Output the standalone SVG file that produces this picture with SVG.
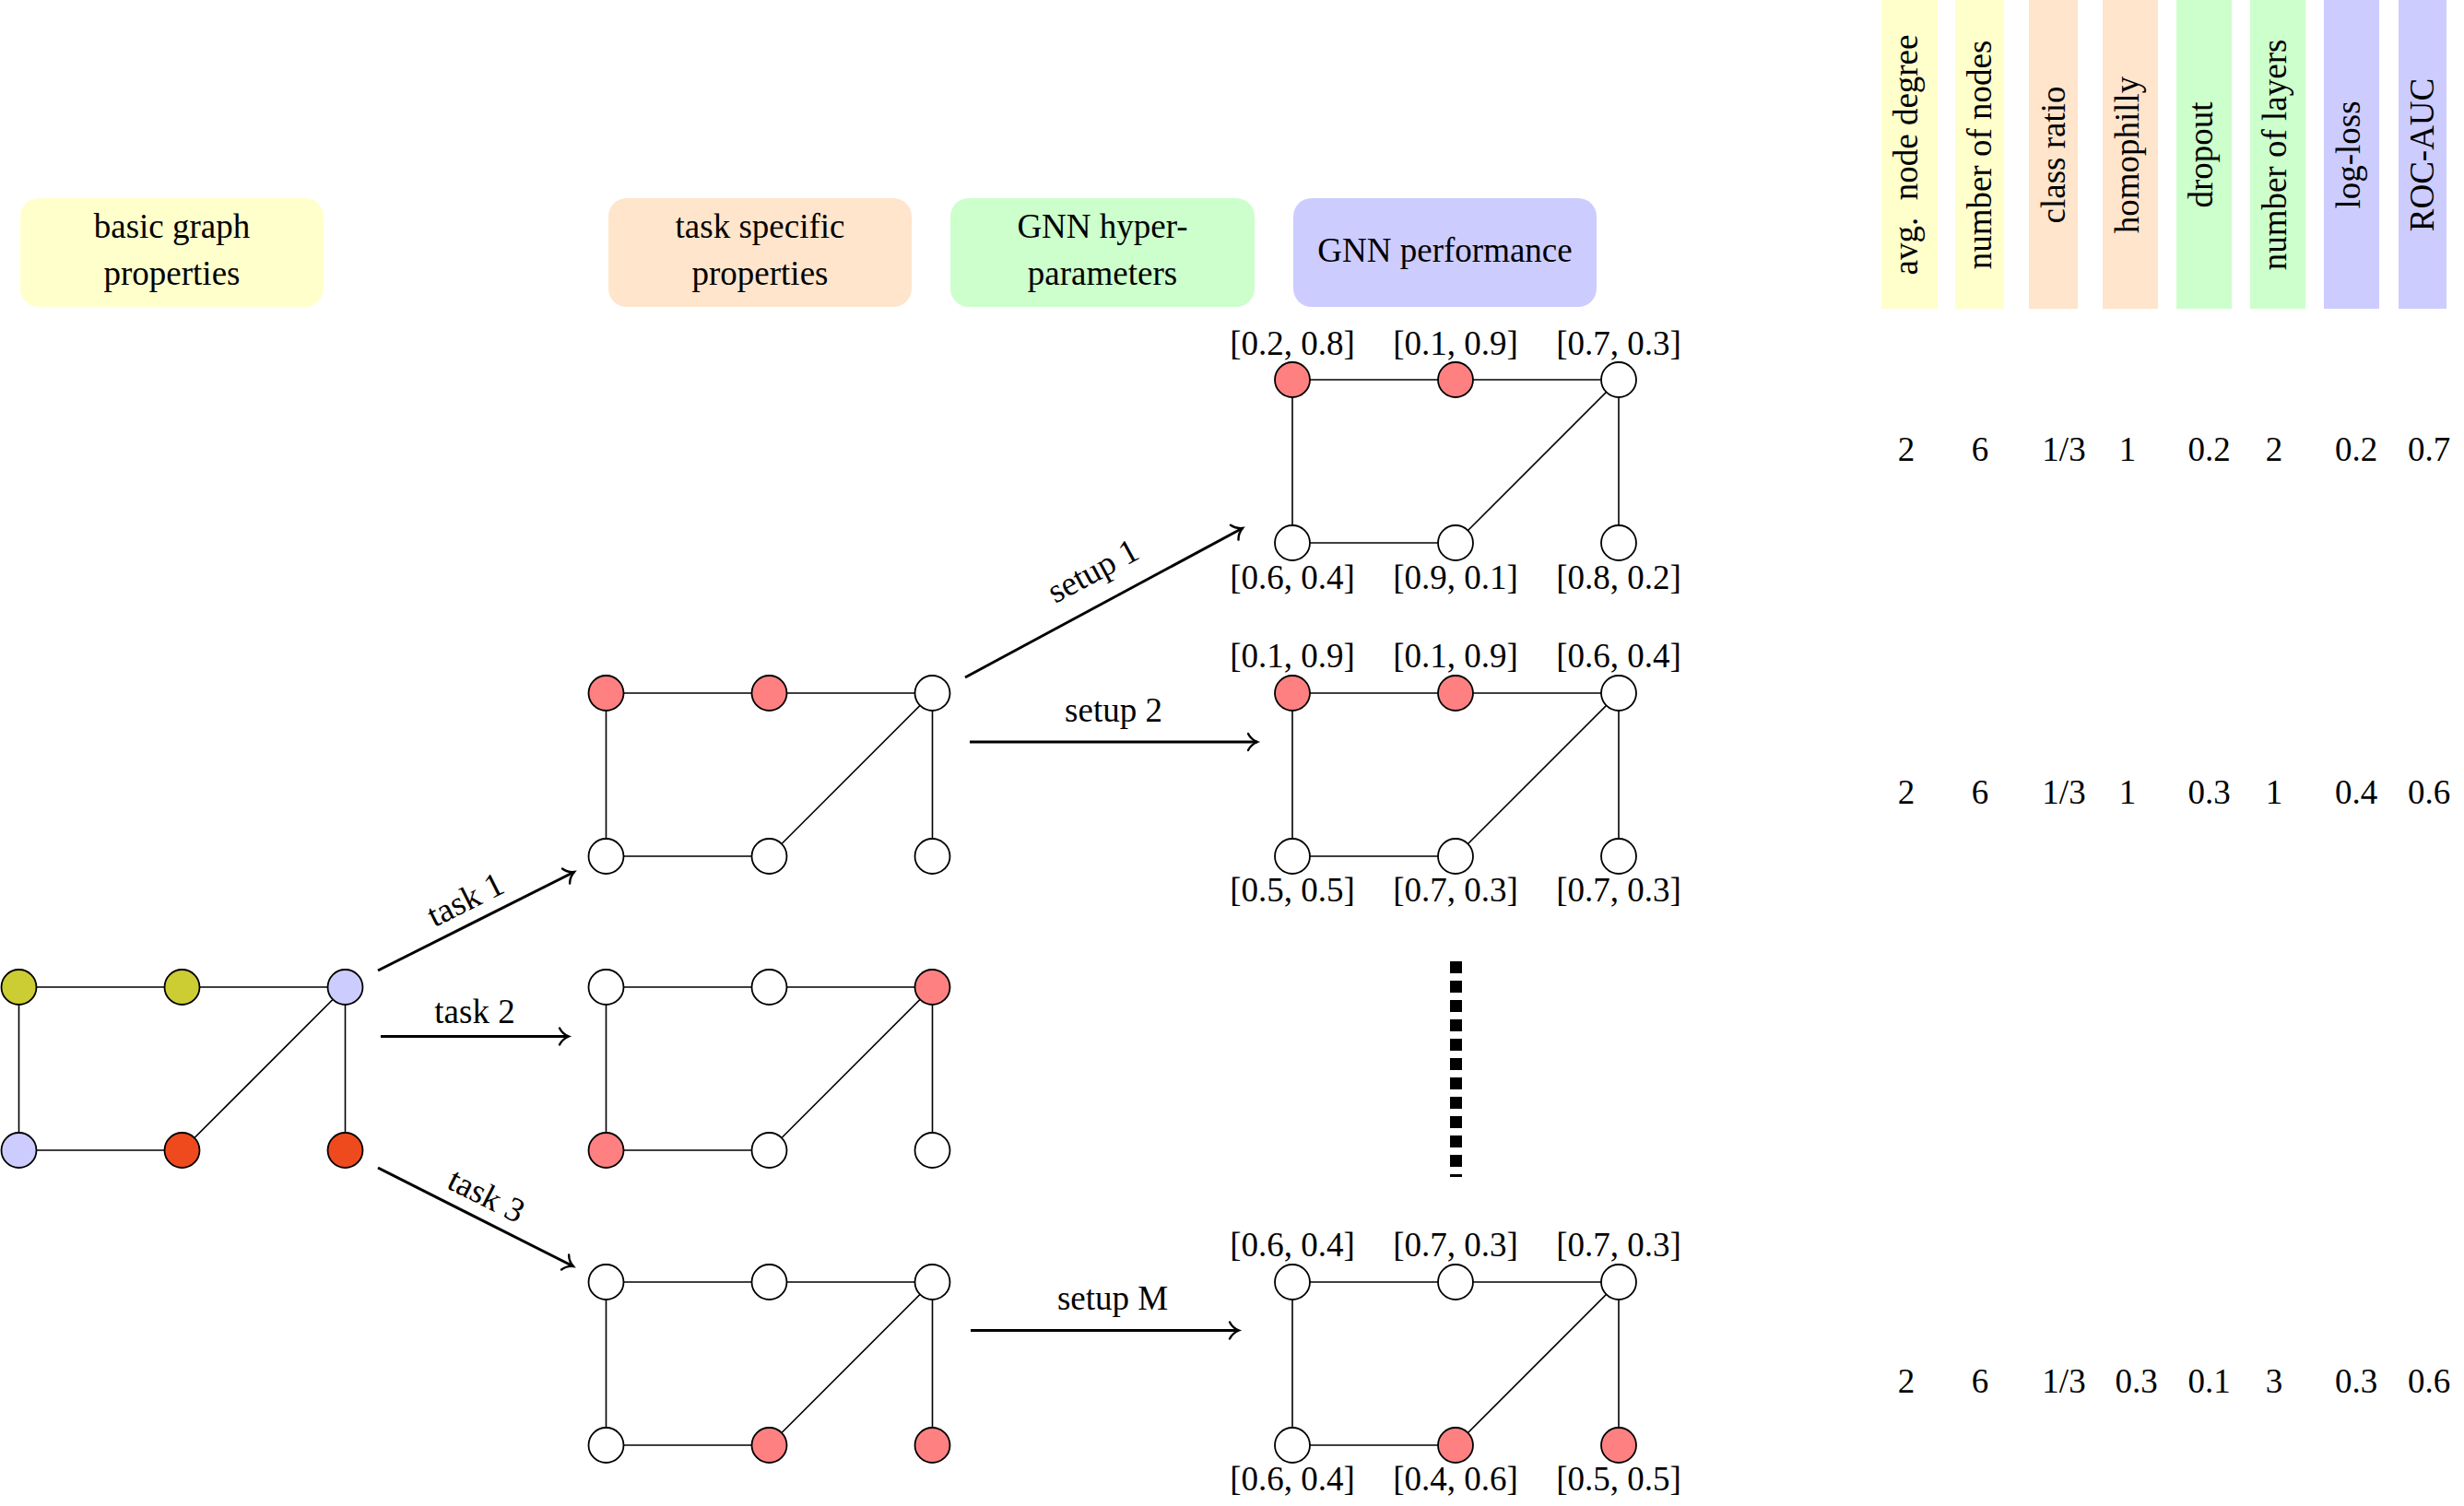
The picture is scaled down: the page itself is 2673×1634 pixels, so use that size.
<svg xmlns="http://www.w3.org/2000/svg" width="2673" height="1634" viewBox="0 0 2673 1634">
<style>
text { font-family: "Liberation Serif", "Times New Roman", serif; font-size: 37px; fill: #000; }
.c { text-anchor: middle; }
.edge { fill: none; stroke: #000; stroke-width: 1.6; }
.n { stroke: #000; stroke-width: 1.8; }
.w { fill: #FFFFFF; }
.p { fill: #FF8080; }
.o { fill: #CCCC33; }
.l { fill: #CCCCFF; }
.r { fill: #EF4A1E; }
.arrow { fill: none; stroke: #000; stroke-width: 3; marker-end: url(#arr); }
.yel { fill: #FFFFCC; }
.ora { fill: #FFE5CC; }
.grn { fill: #CCFFCC; }
.blu { fill: #CCCCFF; }
</style>
<defs>
<marker id="arr" markerUnits="userSpaceOnUse" markerWidth="30" markerHeight="30" viewBox="-15 -15 30 30" refX="0" refY="0" orient="auto" overflow="visible">
<path d="M -10,-9 C -7.5,-4 -2.5,-1 0,0 C -2.5,1 -7.5,4 -10,9" fill="none" stroke="#000" stroke-width="2.4" stroke-linecap="round"/>
</marker>
</defs>
<rect width="2673" height="1634" fill="#FFFFFF"/>

<!-- header boxes -->
<g id="hdr-basic">
<rect class="yel" x="22" y="215" width="329" height="118" rx="20"/>
<text class="c" x="186.5" y="258">basic graph</text>
<text class="c" x="186.5" y="309">properties</text>
</g>
<g id="hdr-task">
<rect class="ora" x="660" y="215" width="329" height="118" rx="20"/>
<text class="c" x="824.5" y="258">task specific</text>
<text class="c" x="824.5" y="309">properties</text>
</g>
<g id="hdr-hyper">
<rect class="grn" x="1031" y="215" width="330" height="118" rx="20"/>
<text class="c" x="1196" y="258">GNN hyper-</text>
<text class="c" x="1196" y="309">parameters</text>
</g>
<g id="hdr-perf">
<rect class="blu" x="1403" y="215" width="329" height="118" rx="20"/>
<text class="c" x="1567.5" y="284">GNN performance</text>
</g>

<!-- base graph -->
<g id="graph-base">
<path class="edge" d="M20.5,1071 H374.5 M20.5,1071 V1248 H197.5 L374.5,1071 V1248"/>
<circle class="n o" cx="20.5" cy="1071" r="19"/>
<circle class="n o" cx="197.5" cy="1071" r="19"/>
<circle class="n l" cx="374.5" cy="1071" r="19"/>
<circle class="n l" cx="20.5" cy="1248" r="19"/>
<circle class="n r" cx="197.5" cy="1248" r="19"/>
<circle class="n r" cx="374.5" cy="1248" r="19"/>
</g>

<!-- task graphs -->
<g id="graph-task1">
<path class="edge" d="M657.5,752 H1011.5 M657.5,752 V929 H834.5 L1011.5,752 V929"/>
<circle class="n p" cx="657.5" cy="752" r="19"/>
<circle class="n p" cx="834.5" cy="752" r="19"/>
<circle class="n w" cx="1011.5" cy="752" r="19"/>
<circle class="n w" cx="657.5" cy="929" r="19"/>
<circle class="n w" cx="834.5" cy="929" r="19"/>
<circle class="n w" cx="1011.5" cy="929" r="19"/>
</g>
<g id="graph-task2">
<path class="edge" d="M657.5,1071 H1011.5 M657.5,1071 V1248 H834.5 L1011.5,1071 V1248"/>
<circle class="n w" cx="657.5" cy="1071" r="19"/>
<circle class="n w" cx="834.5" cy="1071" r="19"/>
<circle class="n p" cx="1011.5" cy="1071" r="19"/>
<circle class="n p" cx="657.5" cy="1248" r="19"/>
<circle class="n w" cx="834.5" cy="1248" r="19"/>
<circle class="n w" cx="1011.5" cy="1248" r="19"/>
</g>
<g id="graph-task3">
<path class="edge" d="M657.5,1391 H1011.5 M657.5,1391 V1568 H834.5 L1011.5,1391 V1568"/>
<circle class="n w" cx="657.5" cy="1391" r="19"/>
<circle class="n w" cx="834.5" cy="1391" r="19"/>
<circle class="n w" cx="1011.5" cy="1391" r="19"/>
<circle class="n w" cx="657.5" cy="1568" r="19"/>
<circle class="n p" cx="834.5" cy="1568" r="19"/>
<circle class="n p" cx="1011.5" cy="1568" r="19"/>
</g>

<!-- setup graphs -->
<g id="graph-setup1">
<path class="edge" d="M1402,412 H1756 M1402,412 V589 H1579 L1756,412 V589"/>
<circle class="n p" cx="1402" cy="412" r="19"/>
<circle class="n p" cx="1579" cy="412" r="19"/>
<circle class="n w" cx="1756" cy="412" r="19"/>
<circle class="n w" cx="1402" cy="589" r="19"/>
<circle class="n w" cx="1579" cy="589" r="19"/>
<circle class="n w" cx="1756" cy="589" r="19"/>
<text class="c" x="1402" y="385">[0.2, 0.8]</text>
<text class="c" x="1579" y="385">[0.1, 0.9]</text>
<text class="c" x="1756" y="385">[0.7, 0.3]</text>
<text class="c" x="1402" y="639">[0.6, 0.4]</text>
<text class="c" x="1579" y="639">[0.9, 0.1]</text>
<text class="c" x="1756" y="639">[0.8, 0.2]</text>
</g>
<g id="graph-setup2">
<path class="edge" d="M1402,752 H1756 M1402,752 V929 H1579 L1756,752 V929"/>
<circle class="n p" cx="1402" cy="752" r="19"/>
<circle class="n p" cx="1579" cy="752" r="19"/>
<circle class="n w" cx="1756" cy="752" r="19"/>
<circle class="n w" cx="1402" cy="929" r="19"/>
<circle class="n w" cx="1579" cy="929" r="19"/>
<circle class="n w" cx="1756" cy="929" r="19"/>
<text class="c" x="1402" y="724">[0.1, 0.9]</text>
<text class="c" x="1579" y="724">[0.1, 0.9]</text>
<text class="c" x="1756" y="724">[0.6, 0.4]</text>
<text class="c" x="1402" y="978">[0.5, 0.5]</text>
<text class="c" x="1579" y="978">[0.7, 0.3]</text>
<text class="c" x="1756" y="978">[0.7, 0.3]</text>
</g>
<g id="graph-setupM">
<path class="edge" d="M1402,1391 H1756 M1402,1391 V1568 H1579 L1756,1391 V1568"/>
<circle class="n w" cx="1402" cy="1391" r="19"/>
<circle class="n w" cx="1579" cy="1391" r="19"/>
<circle class="n w" cx="1756" cy="1391" r="19"/>
<circle class="n w" cx="1402" cy="1568" r="19"/>
<circle class="n p" cx="1579" cy="1568" r="19"/>
<circle class="n p" cx="1756" cy="1568" r="19"/>
<text class="c" x="1402" y="1363">[0.6, 0.4]</text>
<text class="c" x="1579" y="1363">[0.7, 0.3]</text>
<text class="c" x="1756" y="1363">[0.7, 0.3]</text>
<text class="c" x="1402" y="1617">[0.6, 0.4]</text>
<text class="c" x="1579" y="1617">[0.4, 0.6]</text>
<text class="c" x="1756" y="1617">[0.5, 0.5]</text>
</g>

<!-- ellipsis -->
<g id="ellipsis">
<line x1="1579.5" y1="1043" x2="1579.5" y2="1277" stroke="#000" stroke-width="13" stroke-dasharray="13 8"/>
</g>

<!-- connectors -->
<g id="connectors">
<line class="arrow" x1="410" y1="1053" x2="623" y2="946"/>
<line class="arrow" x1="413" y1="1124.5" x2="617" y2="1124.5"/>
<line class="arrow" x1="410" y1="1267" x2="622" y2="1374"/>
<line class="arrow" x1="1047" y1="735" x2="1348" y2="573"/>
<line class="arrow" x1="1052" y1="805" x2="1364" y2="805"/>
<line class="arrow" x1="1053" y1="1443.5" x2="1344" y2="1443.5"/>
<text class="c" transform="translate(516.5,999.5) rotate(-26.67)" x="0" y="-14">task 1</text>
<text class="c" x="515" y="1110">task 2</text>
<text class="c" transform="translate(516,1320.5) rotate(26.8)" x="0" y="-14">task 3</text>
<text class="c" transform="translate(1197.5,654) rotate(-28.3)" x="6" y="-24">setup 1</text>
<text class="c" x="1208" y="783">setup 2</text>
<text class="c" x="1207" y="1421">setup M</text>
</g>

<!-- table header bars -->
<g id="table-header">
<rect class="yel" x="2041" y="0" width="61" height="335"/>
<rect class="yel" x="2121" y="0" width="53" height="335"/>
<rect class="ora" x="2201" y="0" width="53" height="335"/>
<rect class="ora" x="2281" y="0" width="60" height="335"/>
<rect class="grn" x="2361" y="0" width="60" height="335"/>
<rect class="grn" x="2441" y="0" width="60" height="335"/>
<rect class="blu" x="2521" y="0" width="60" height="335"/>
<rect class="blu" x="2602" y="0" width="52" height="335"/>
<text class="c" transform="translate(2080,168) rotate(-90)" xml:space="preserve">avg.  node degree</text>
<text class="c" transform="translate(2160,168) rotate(-90)">number of nodes</text>
<text class="c" transform="translate(2240,168) rotate(-90)">class ratio</text>
<text class="c" transform="translate(2320,168) rotate(-90)">homophilly</text>
<text class="c" transform="translate(2400,168) rotate(-90)">dropout</text>
<text class="c" transform="translate(2480,168) rotate(-90)">number of layers</text>
<text class="c" transform="translate(2560,168) rotate(-90)">log-loss</text>
<text class="c" transform="translate(2640,168) rotate(-90)">ROC-AUC</text>
</g>

<!-- table rows -->
<g id="table-row1">
<text class="c" x="2068" y="500">2</text>
<text class="c" x="2148" y="500">6</text>
<text class="c" x="2239" y="500">1/3</text>
<text class="c" x="2308" y="500">1</text>
<text class="c" x="2396.5" y="500">0.2</text>
<text class="c" x="2467" y="500">2</text>
<text class="c" x="2556" y="500">0.2</text>
<text class="c" x="2635" y="500">0.7</text>
</g>
<g id="table-row2">
<text class="c" x="2068" y="872">2</text>
<text class="c" x="2148" y="872">6</text>
<text class="c" x="2239" y="872">1/3</text>
<text class="c" x="2308" y="872">1</text>
<text class="c" x="2396.5" y="872">0.3</text>
<text class="c" x="2467" y="872">1</text>
<text class="c" x="2556" y="872">0.4</text>
<text class="c" x="2635" y="872">0.6</text>
</g>
<g id="table-row3">
<text class="c" x="2068" y="1511">2</text>
<text class="c" x="2148" y="1511">6</text>
<text class="c" x="2239" y="1511">1/3</text>
<text class="c" x="2317.5" y="1511">0.3</text>
<text class="c" x="2396.5" y="1511">0.1</text>
<text class="c" x="2467" y="1511">3</text>
<text class="c" x="2556" y="1511">0.3</text>
<text class="c" x="2635" y="1511">0.6</text>
</g>
</svg>
